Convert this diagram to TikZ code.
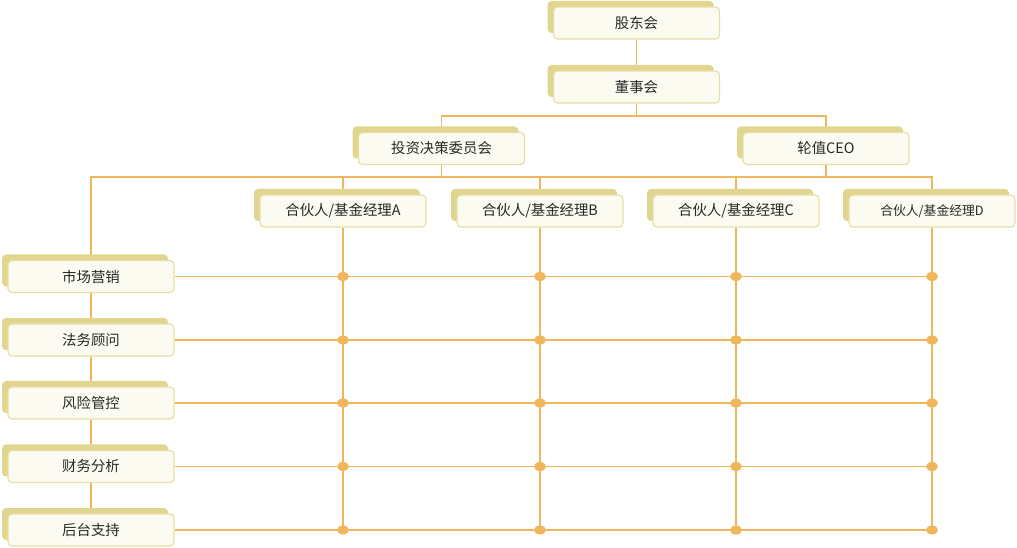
\documentclass[tikz,border=0pt]{standalone}
\usepackage{fontspec}
\setmainfont{Noto Sans CJK SC}
\usetikzlibrary{shadows,backgrounds}
\definecolor{linkorange}{RGB}{240,182,92}
\definecolor{shadetan}{RGB}{224,214,144}
\definecolor{boxedge}{RGB}{232,222,164}
\definecolor{boxfill}{RGB}{252,251,242}
\definecolor{txtgray}{RGB}{40,40,40}
\tikzset{
  orgbox/.style = {draw=boxedge,line width=0.9pt,rounded corners=3pt,fill=boxfill,
                   minimum width=124.5pt,minimum height=24pt,inner sep=0pt,
                   font=\fontsize{10.8pt}{12pt}\selectfont,text=txtgray,
                   general shadow={fill=shadetan,shadow xshift=-4.5pt,shadow yshift=4.5pt}},
  link/.style   = {draw=linkorange,line width=1.4pt},
  joint/.style  = {fill=linkorange},
}
\begin{document}
\begin{tikzpicture}[x=0.75pt,y=-0.75pt]
  \useasboundingbox (0,0) rectangle (1017,548);
  % upper levels
  \node[orgbox] (gdh) at (636.5,23) {股东会};
  \node[orgbox] (dsh) at (636.5,87) {董事会};
  \node[orgbox] (tzh) at (441.5,148.5) {投资决策委员会};
  \node[orgbox] (ceo) at (826,148.5) {轮值CEO};
  % partners
  \foreach \nm/\x/\lab in {pa/343/A,pb/540/B,pc/736/C}
    \node[orgbox] (\nm) at (\x,211) {合伙人/基金经理\lab};
  \node[orgbox,font=\fontsize{9.6pt}{11pt}\selectfont] (pd) at (932,211) {合伙人/基金经理D};
  % departments
  \foreach \nm/\y/\lab in {mkt/276.5/市场营销,law/340/法务顾问,risk/403/风险管控,
                          fin/466.5/财务分析,back/530/后台支持}
    \node[orgbox] (\nm) at (91,\y) {\lab};
  \begin{scope}[on background layer]
    \draw[link] (gdh) -- (dsh);
    \draw[link] (dsh.south) -- ++(0,12) -| (tzh.north);
    \draw[link] (dsh.south) -- ++(0,12) -| (ceo.north);
    \draw[link] (ceo.south) -- ++(0,12);
    \foreach \nm in {mkt,pa,pb,pc,pd}
      \draw[link] (tzh.south) -- ++(0,12) -| (\nm.north);
    \draw[link] (mkt) -- (law);
    \draw[link] (law) -- (risk);
    \draw[link] (risk) -- (fin);
    \draw[link] (fin) -- (back);
    \foreach \nm in {pa,pb,pc,pd}
      \draw[link] (\nm.south) -- (\nm.south |- back.east);
    \foreach \dep in {mkt,law,risk,fin,back}
      \draw[link] (\dep.east) -- (\dep.east -| pd.south);
  \end{scope}
  % crossing points
  \foreach \nm in {pa,pb,pc,pd}
    \foreach \dep in {mkt,law,risk,fin,back}
      \fill[joint] (\nm.south |- \dep.east) ellipse [x radius=6,y radius=4.5];
\end{tikzpicture}
\end{document}
